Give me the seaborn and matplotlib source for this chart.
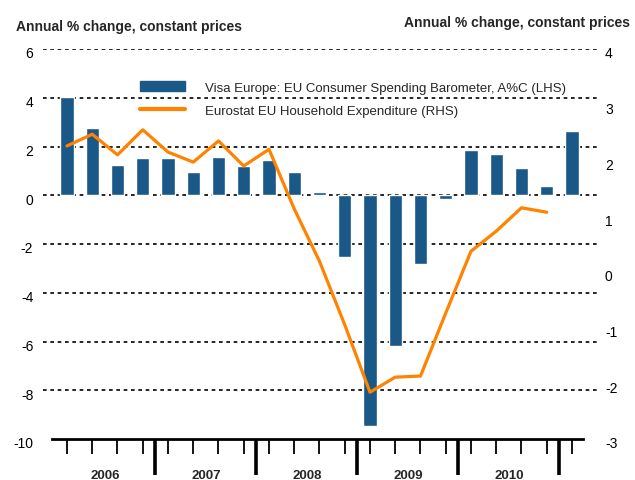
import matplotlib
matplotlib.use("Agg")
import matplotlib.pyplot as plt
import matplotlib.transforms as mtransforms
import numpy as np
import pandas as pd
import seaborn as sns
from matplotlib.lines import Line2D
from matplotlib.patches import Patch
from matplotlib.ticker import FixedLocator

# quarterly data, 2006 Q1 .. 2011 Q1
quarters = [f"{y}Q{q}" for y in range(2006, 2011) for q in range(1, 5)] + ["2011Q1"]
visa = [4.05, 2.75, 1.25, 1.52, 1.52, 0.94, 1.56, 1.20, 1.45, 0.97, 0.12,
        -2.55, -9.47, -6.20, -2.83, -0.15, 1.86, 1.70, 1.10, 0.36, 2.64]
eurostat = [2.26, 2.47, 2.10, 2.55, 2.15, 1.97, 2.35, 1.90, 2.20, 1.13, 0.19,
            -0.95, -2.16, -1.89, -1.87, -0.74, 0.37, 0.73, 1.15, 1.07]
years = ["2006", "2007", "2008", "2009", "2010"]

left_ticks = [-10, -8, -6, -4, -2, 0, 2, 4, 6]
right_ticks = [-3, -2, -1, 0, 1, 2, 3, 4]

bar_color = "#1a5888"
line_color = "#ff8200"

sns.set_theme(style="white")
plt.rcParams["font.family"] = ["Liberation Sans", "DejaVu Sans"]

pos = np.arange(len(quarters))
df_bar = pd.DataFrame({"pos": pos, "visa": visa})
df_line = pd.DataFrame({"pos": pos[:len(eurostat)], "eurostat": eurostat})

fig = plt.figure(figsize=(6.35, 4.81), dpi=100)
ax = fig.add_axes([43 / 635, 41 / 481, 555 / 635, 390 / 481])

sns.barplot(data=df_bar, x="pos", y="visa", native_scale=True, width=0.53,
            color=bar_color, saturation=1, ax=ax, zorder=3)
ax.set_ylim(-10, 6)
ax.set_yticks(left_ticks)
ax.set_yticklabels([str(t) for t in left_ticks], fontsize=10, color="black")
ax.set_xlim(-0.95, 21.03)
ax.set_xlabel("")
ax.set_ylabel("")

for t in left_ticks[1:]:
    ax.axhline(t, color="black", lw=1.2, ls=(0, (2.2, 2.2)), zorder=1)

for s in ["top", "left", "right"]:
    ax.spines[s].set_visible(False)
ax.spines["bottom"].set_color("black")
ax.spines["bottom"].set_linewidth(2)
ax.spines["bottom"].set_bounds(-0.59, 20.44)
ax.spines["bottom"].set_zorder(5)

ax.xaxis.set_major_locator(FixedLocator(pos))
ax.set_xticklabels([])
ax.xaxis.set_minor_locator(FixedLocator([3.5, 7.5, 11.5, 15.5, 19.5]))
ax.tick_params(axis="x", which="major", direction="out", length=11, width=1.3,
               color="black", bottom=True)
ax.tick_params(axis="x", which="minor", direction="out", length=26, width=2.6,
               color="black", bottom=True)
ax.tick_params(axis="y", length=0, pad=7)

for i, yr in enumerate(years):
    ax.text(1.5 + 4 * i, -0.092, yr, transform=ax.get_xaxis_transform(),
            ha="center", va="center", fontsize=9.5, fontweight="bold")

ax2 = ax.twinx()
sns.lineplot(data=df_line, x="pos", y="eurostat", color=line_color, lw=2.3,
             ax=ax2, zorder=4)
ax2.set_ylim(-3, 4)
ax2.set_yticks(right_ticks)
ax2.set_yticklabels([str(t) for t in right_ticks], fontsize=10, color="black")
ax2.tick_params(axis="y", length=0, pad=5)
ax2.set_xlabel("")
ax2.set_ylabel("")
for s in ["top", "left", "right", "bottom"]:
    ax2.spines[s].set_visible(False)

# tick labels sit a little below their gridlines in the original
shift = mtransforms.ScaledTranslation(0, -3 / 100, fig.dpi_scale_trans)
for lbl in ax.get_yticklabels() + ax2.get_yticklabels():
    lbl.set_transform(lbl.get_transform() + shift)

handles = [Patch(color=bar_color), Line2D([], [], color=line_color, lw=3)]
labels = ["Visa Europe: EU Consumer Spending Barometer, A%C (LHS)",
          "Eurostat EU Household Expenditure (RHS)"]
fig.legend(handles, labels, loc="upper left", bbox_to_anchor=(140 / 635, 1 - 82 / 481),
           frameon=False, fontsize=9.5, handlelength=3.4, handleheight=0.8,
           handletextpad=1.5, labelspacing=0.8, borderpad=0, borderaxespad=0)

fig.text(16 / 635, 1 - 27 / 481, "Annual % change, constant prices",
         ha="left", va="center", fontsize=10, fontweight="bold")
fig.text(630 / 635, 1 - 23 / 481, "Annual % change, constant prices",
         ha="right", va="center", fontsize=10, fontweight="bold")

fig.savefig("out.png", dpi=100)
